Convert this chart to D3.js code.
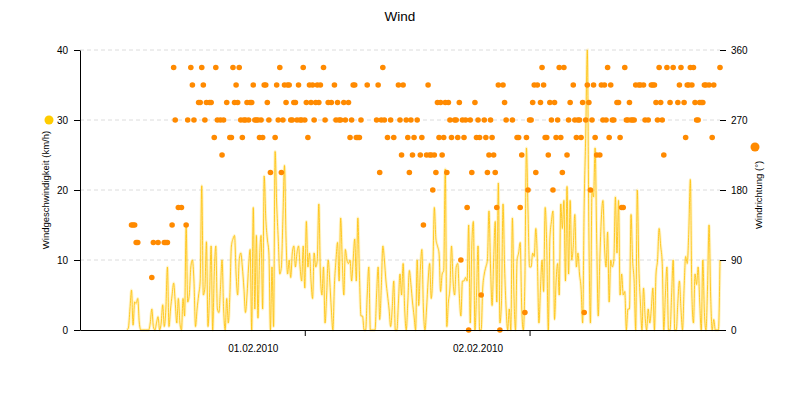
<!DOCTYPE html>
<html>
<head>
<meta charset="utf-8">
<script src="https://cdn.jsdelivr.net/npm/d3@7/dist/d3.min.js"></script>
<style>
  body { margin: 0; background: #fff; }
  svg { font-family: "Liberation Sans", Arial, sans-serif; }
</style>
</head>
<body>
<div class="chart"></div>
<script>
// 10 minute readings starting 31.01.2010 05:00
const startTime = new Date(2010, 0, 31, 5, 0);
const stepMinutes = 10;

// wind speed in km/h
const speed = [
  0, 0.3, 3, 5.7, 0.7, 4, 3.8, 4.5, 1, 0,
  0, 0, 0, 0, 0, 1, 3, 0.5, 0, 1,
  1.9, 0, 1, 3.6, 0.5, 3, 9, 0.5, 3, 5,
  6.7, 4, 1, 4.5, 1, 0, 4.5, 2, 14.8, 4,
  5, 9, 10, 7, 0.5, 3, 5, 7, 20.6, 5,
  6, 12.6, 0.5, 5, 12, 0, 8, 12, 3, 2.5,
  6, 10, 3, 0, 4.5, 1, 5, 12, 13, 13.5,
  8, 5, 10, 11, 9, 6, 2.5, 5, 9, 11.5,
  0, 17.5, 3, 13.5, 1.7, 10, 13.5, 3, 22, 16,
  13, 11, 0, 9, 0.5, 25.5, 18, 13, 8, 9,
  16, 23.5, 13, 8, 10, 7.5, 11, 12, 9, 11,
  12, 9, 7, 12, 6, 15.5, 9, 11, 7, 4.5,
  11, 9, 10, 18, 8, 5, 9, 1, 5, 10,
  7, 3, 0, 6.5, 10, 12.5, 7, 16, 10, 5,
  11.5, 10, 9.5, 10, 7, 10, 13, 7, 16, 8,
  2, 2, 0, 0, 5, 9, 0, 0, 0, 0,
  5, 9, 1.5, 6, 12, 10, 7, 5, 3, 0.5,
  3, 7, 0, 0, 4, 8, 5, 9.5, 3, 0,
  4, 8.5, 6.5, 4, 2, 0, 10, 3.5, 8.5, 11.5,
  3, 0, 3, 7, 9.5, 4.5, 8, 17.5, 13, 12,
  11, 5.5, 8, 8.5, 23, 0.5, 4, 6, 12, 7,
  5, 9, 9.5, 5, 2, 7, 7, 7.5, 7, 15,
  1, 12, 15.5, 0, 5, 12, 0, 0, 6, 8,
  9, 10, 17, 9, 3.5, 10, 15.5, 4, 21, 1,
  4, 18, 9, 3, 0, 3, 0, 16, 5, 0,
  10, 11, 12.5, 3, 0, 7, 26, 17, 9, 9,
  11, 10.5, 14.5, 10, 1, 6, 10, 5.5, 17.5, 12,
  0, 13, 15.5, 17, 1.5, 7, 9.5, 5, 18, 14.5,
  18.5, 7, 20.5, 8, 18.5, 10, 12, 16.5, 9, 11,
  8, 6, 1, 18, 28, 40, 14, 1, 20, 19,
  26, 13, 2, 10, 16, 18.5, 12, 9, 14, 4,
  10, 9, 10, 19, 11, 18.5, 5, 8, 5, 5.5,
  0, 3, 3, 16.5, 10, 7, 0, 20, 9, 4,
  0, 6, 2, 0, 3, 1, 3, 6, 0, 8,
  10, 14.5, 12, 9.5, 0, 5, 9, 0, 0, 5,
  10, 0, 0, 4, 7, 3, 0, 6, 10.5, 9.5,
  14, 21.5, 5, 1, 8, 6.5, 9, 4, 0, 10,
  2.5, 0, 6, 15, 5, 0, 1.5, 0, 0, 0,
  10
];

// wind direction in degrees (null = no reading)
const direction = [
  null, null, null, 135, 135, 135, 112.5, 112.5, null, null,
  null, null, null, null, null, null, 67.5, 112.5, null, null,
  112.5, null, null, null, 112.5, 112.5, 112.5, null, null, 135,
  337.5, 270, null, 157.5, null, 157.5, null, null, 135, 270,
  null, 337.5, 315, 270, null, null, 292.5, 292.5, 337.5, 315,
  270, 292.5, null, 292.5, 292.5, null, 247.5, 337.5, 270, null,
  270, 225, 270, null, 292.5, null, 247.5, 247.5, 337.5, 292.5,
  315, 292.5, 337.5, 270, 247.5, 270, 270, 292.5, 270, 292.5,
  292.5, 315, 270, 270, 270, 247.5, 270, 247.5, 315, 315,
  292.5, 270, 202.5, null, null, 247.5, 315, 270, 337.5, 202.5,
  270, 315, 292.5, 315, 315, 270, 270, 292.5, 292.5, 270,
  315, 270, 270, 337.5, 270, 292.5, 247.5, 315, 292.5, 315,
  270, 292.5, 315, 292.5, 315, null, 337.5, 270, null, 292.5,
  null, 292.5, null, 315, 270, 292.5, 270, 270, null, 292.5,
  270, null, 292.5, 247.5, 270, 315, 315, 247.5, 247.5, 247.5,
  270, null, null, null, 315, null, null, null, null, null,
  270, 315, 202.5, 270, 337.5, 270, null, 247.5, null, 270,
  null, 247.5, null, null, 315, 270, 225, 315, null, 270,
  247.5, 202.5, 270, 225, 247.5, null, 270, null, 225, 247.5,
  135, null, 225, 315, 225, 225, 180, 225, 202.5, 292.5,
  247.5, 292.5, 225, 247.5, 292.5, 202.5, 292.5, 270, 247.5, null,
  270, 270, 247.5, 292.5, 90, 270, 247.5, 270, 157.5, 0,
  270, 202.5, null, 292.5, 247.5, 270, 247.5, 45, null, 270,
  247.5, 202.5, 225, 270, 247.5, 225, 202.5, 157.5, 315, 0,
  null, 315, 292.5, 270, null, null, null, 270, null, null,
  247.5, 247.5, 157.5, 225, null, 22.5, 247.5, 180, 270, 270,
  292.5, 315, 202.5, 315, null, 292.5, 337.5, 315, 247.5, 247.5,
  225, 292.5, 270, 180, 292.5, 247.5, 270, 337.5, 247.5, 202.5,
  337.5, null, 225, 270, 292.5, null, 315, 270, 247.5, 270,
  270, 247.5, 292.5, 22.5, 270, 315, 292.5, 180, 270, 315,
  247.5, 225, null, 225, 315, 270, 315, 270, 337.5, 247.5,
  315, 270, 270, null, 292.5, 292.5, 247.5, 157.5, 157.5, 337.5,
  270, 270, 292.5, 270, 270, 270, 315, null, 315, 315,
  null, 315, 270, null, 270, null, 315, 315, 315, 292.5,
  270, 337.5, 292.5, 270, 225, null, 337.5, null, 292.5, null,
  337.5, null, null, 292.5, 315, 337.5, null, 292.5, 247.5, 315,
  315, 337.5, 315, 337.5, 292.5, 270, 270, 292.5, 292.5, 292.5,
  315, 315, null, 315, null, 247.5, 315, null, null, null,
  337.5
];

const speedTicks = [0, 10, 20, 30, 40];
const directionTicks = [0, 90, 180, 270, 360];
const dayTicks = [new Date(2010, 1, 1), new Date(2010, 1, 2)];
const timeRange = [new Date(2010, 0, 31, 0, 0), new Date(2010, 1, 2, 20, 20)];

const width = 800, height = 400;
const margin = { top: 50, right: 80, bottom: 70, left: 80 };

const data = speed.map((s, i) => ({
  date: d3.timeMinute.offset(startTime, i * stepMinutes),
  speed: s,
  dir: direction[i]
}));

const svg = d3.select('.chart').append('svg')
  .attr('width', width)
  .attr('height', height);

const x = d3.scaleTime().domain(timeRange).range([margin.left, width - margin.right]);
const ySpeed = d3.scaleLinear().domain([0, 40]).range([height - margin.bottom, margin.top]);
const yDir = d3.scaleLinear().domain([0, 360]).range([height - margin.bottom, margin.top]);

// title
svg.append('text')
  .attr('x', width / 2)
  .attr('y', 21)
  .attr('text-anchor', 'middle')
  .style('font-size', '13.5px')
  .text('Wind');

// dashed grid
svg.append('g')
  .selectAll('line')
  .data(speedTicks.slice(1))
  .enter().append('line')
  .attr('x1', margin.left)
  .attr('x2', width - margin.right)
  .attr('y1', d => ySpeed(d))
  .attr('y2', d => ySpeed(d))
  .style('stroke', '#dcdcdc')
  .style('stroke-dasharray', '4,3');

// speed line: pale halo plus thin line
const line = d3.line()
  .x(d => x(d.date))
  .y(d => ySpeed(d.speed))
  .curve(d3.curveMonotoneX);

svg.append('path')
  .datum(data)
  .attr('d', line)
  .style('fill', 'none')
  .style('stroke', 'rgba(255, 214, 70, 0.3)')
  .style('stroke-width', 3);

svg.append('path')
  .datum(data)
  .attr('d', line)
  .style('fill', 'none')
  .style('stroke', '#ffc414')
  .style('stroke-width', 0.9);

// direction dots
svg.append('g')
  .selectAll('circle')
  .data(data.filter(d => d.dir !== null))
  .enter().append('circle')
  .attr('cx', d => x(d.date))
  .attr('cy', d => yDir(d.dir))
  .attr('r', 2.8)
  .style('fill', '#ff8a00');

// left axis
const leftAxis = svg.append('g')
  .attr('transform', 'translate(' + margin.left + ',0)')
  .call(d3.axisLeft(ySpeed).tickValues(speedTicks).tickSize(6).tickSizeOuter(0).tickPadding(6));
leftAxis.selectAll('text').style('font-size', '10px').style('fill', '#000');
leftAxis.selectAll('line, path').style('stroke', '#000');

// right axis (ticks only)
const rightAxis = svg.append('g')
  .attr('transform', 'translate(' + (width - margin.right) + ',0)')
  .call(d3.axisRight(yDir).tickValues(directionTicks).tickSize(6).tickSizeOuter(0).tickPadding(5));
rightAxis.select('.domain').remove();
rightAxis.selectAll('text').style('font-size', '10px').style('fill', '#000');
rightAxis.selectAll('line').style('stroke', '#000');

// bottom axis
const bottomAxis = svg.append('g')
  .attr('transform', 'translate(0,' + (height - margin.bottom) + ')')
  .call(d3.axisBottom(x).tickValues(dayTicks).tickFormat(d3.timeFormat('%d.%m.%Y')).tickSize(6).tickSizeOuter(0).tickPadding(9));
bottomAxis.selectAll('text').style('font-size', '10px').style('fill', '#000').attr('dx', -52);
bottomAxis.selectAll('line, path').style('stroke', '#000');

// axis titles and legend markers
svg.append('text')
  .attr('transform', 'translate(49,190)rotate(-90)')
  .attr('text-anchor', 'middle')
  .style('font-size', '9.5px')
  .text('Windgeschwindigkeit (km/h)');

svg.append('circle')
  .attr('cx', 49).attr('cy', 120).attr('r', 4.5)
  .style('fill', '#ffcc00');

svg.append('text')
  .attr('transform', 'translate(762,195)rotate(-90)')
  .attr('text-anchor', 'middle')
  .style('font-size', '9.5px')
  .text('Windrichtung (°)');

svg.append('circle')
  .attr('cx', 755).attr('cy', 147).attr('r', 4.5)
  .style('fill', '#ff8a00');
</script>
</body>
</html>
